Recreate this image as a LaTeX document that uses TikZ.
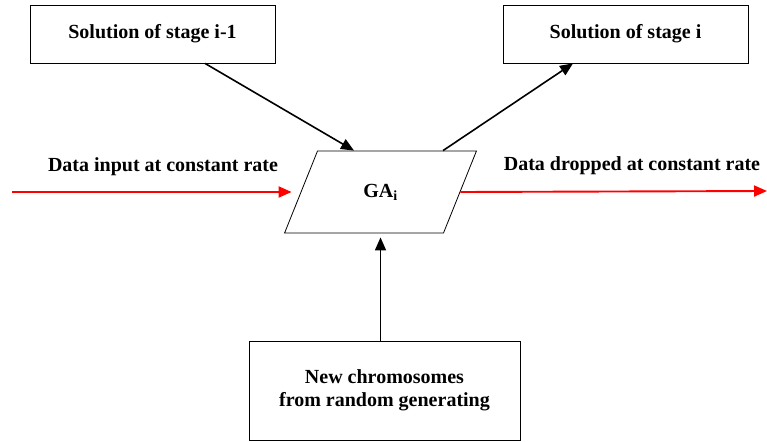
\documentclass[tikz,border=0pt]{standalone}
\usepackage{fontspec}
\setmainfont{Liberation Serif}
\usetikzlibrary{shapes.geometric, arrows.meta, positioning}

\begin{document}
\begin{tikzpicture}[x=1pt, y=-1pt,
  every node/.style={font=\bfseries\fontsize{20}{23}\selectfont},
  stagebox/.style={draw, line width=0.8pt, minimum width=245pt, minimum height=58pt},
  flow/.style={-{Triangle[length=13pt,width=11pt]}, line width=1.6pt},
  dataflow/.style={flow, red, line width=1.9pt}]

  \useasboundingbox (0,0) rectangle (767,441);

  % Stage boxes
  \node [stagebox] (prev) at (152.5,34) {Solution of stage i-1};
  \node [stagebox] (next) at (625.5,34) {Solution of stage i};

  % GA block
  \node [trapezium, draw, line width=0.8pt, trapezium left angle=65,
    trapezium right angle=115, trapezium stretches=true,
    minimum width=193pt, minimum height=82pt] (ga) at (380.5,192) {GA$_\mathbf{i}$};

  % Random generator
  \node [stagebox, minimum width=271pt, minimum height=99pt, align=center]
    (rand) at (384.5,390.5) {New chromosomes\\ from random generating};

  % Data labels
  \node (inlabel) at (163,167) {Data input at constant rate};
  \node (outlabel) at (632,166) {Data dropped at constant rate};

  % Connectors
  \coordinate (src) at (12,192);
  \coordinate (sink) at (767,191);
  \draw [dataflow] (src) -- ([xshift=-9pt]ga.west); % data in
  \draw [dataflow] (ga.east) -- (sink); % data out
  \draw [flow] ([xshift=52.5pt]prev.south) -- ([xshift=-26.5pt]ga.north); % previous stage
  \draw [flow] ([xshift=62.5pt]ga.north) -- ([xshift=-52.5pt]next.south); % next stage
  \draw [flow] (ga.south |- rand.north) -- ([yshift=-4pt]ga.south); % new chromosomes
\end{tikzpicture}
\end{document}
